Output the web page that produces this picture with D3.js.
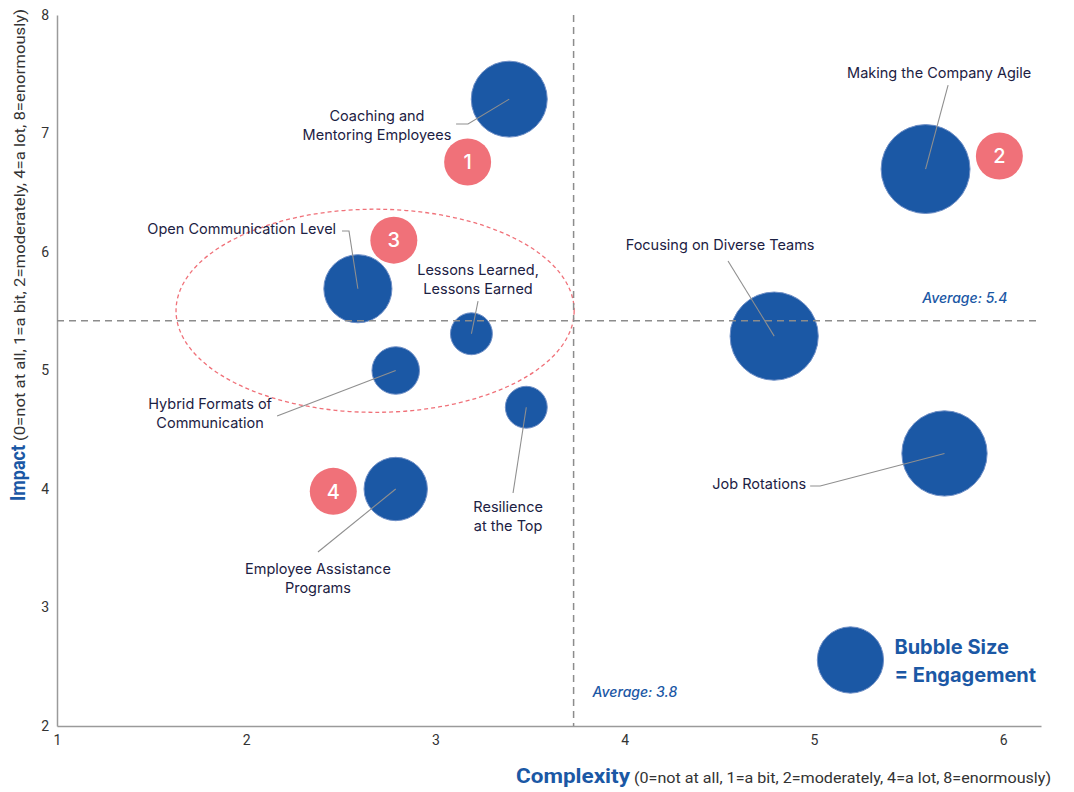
<!DOCTYPE html>
<html><head><meta charset="utf-8">
<script src="https://cdn.jsdelivr.net/npm/d3@7"></script>
<style>
html,body{margin:0;padding:0;background:#fff;}
svg{display:block;font-family:Inter,"Noto Sans",sans-serif;}
</style></head>
<body><svg id="chart" width="1074" height="792"></svg>
<script>
// ---- data ----
const topics = ["Coaching and Mentoring Employees","Making the Company Agile","Open Communication Level","Lessons Learned, Lessons Earned","Focusing on Diverse Teams","Hybrid Formats of Communication","Resilience at the Top","Job Rotations","Employee Assistance Programs"];
const complexity = [3.39, 5.59, 2.59, 3.19, 4.79, 2.79, 3.48, 5.69, 2.79];
const impact     = [7.29, 6.70, 5.69, 5.31, 5.29, 5.00, 4.69, 4.30, 4.00];
const engagement = [4.6, 6.3, 3.7, 1.4, 6.2, 1.8, 1.4, 5.8, 3.2];
// label lines, anchor and placement (data units) and leader start points (data units)
const labelLines = [["Coaching and","Mentoring Employees"],["Making the Company Agile"],["Open Communication Level"],["Lessons Learned,","Lessons Earned"],["Focusing on Diverse Teams"],["Hybrid Formats of","Communication"],["Resilience","at the Top"],["Job Rotations"],["Employee Assistance","Programs"]];
const labelAnchor = ["middle","middle","end","middle","middle","middle","middle","end","middle"];
const labelX = [2.691, 5.662, 2.475, 3.225, 4.504, 1.809, 3.384, 4.959, 2.379];
const labelY = [7.105, 7.468, 6.152, 5.806, 6.017, 4.675, 3.806, 4.000, 3.283];
const leaderX = [[3.109,3.172],[5.709],[2.506,2.543],[3.225],[4.546],[2.163],[3.410],[4.980,5.033],[2.379]];
const leaderY = [[7.080,7.080],[7.409],[6.177,6.177],[5.586],[5.924],[4.616],[3.966],[4.025,4.025],[3.468]];
const markerNums = ["1","2","3","4"];
const markerX = [3.17, 5.98, 2.78, 2.46];
const markerY = [6.76, 6.81, 6.10, 3.98];
const avgComplexity = 3.73, avgComplexityLabel = "Average: 3.8";
const avgImpact = 5.42, avgImpactLabel = "Average: 5.4";
const xTicks = [1,2,3,4,5,6];
const yTicks = [2,3,4,5,6,7,8];
const groupEllipse = {cx: 2.681, cy: 5.504, rx: 1.052, ry: 0.857};
const legendEngagement = 3.5;
const legendPos = [5.193, 2.557];
const legendLines = ["Bubble Size","= Engagement"];

// ---- chart ----
const svg = d3.select("#chart");
const BLUE = "#1b58a5", RED = "#f07179", INK = "#1c2143", GRAY = "#8c8c8c";
const x = d3.scaleLinear().domain([1, 6.2]).range([57, 1041]);
const y = d3.scaleLinear().domain([2, 8]).range([726, 15]);
const r = d3.scaleSqrt().domain([0, 10]).range([0, 56]);

// axes
const xAxis = svg.append("g").attr("transform", `translate(0,${y(2)})`)
  .call(d3.axisBottom(x).tickValues(xTicks).tickSize(0).tickPadding(9).tickFormat(d3.format("d")));
const yAxis = svg.append("g").attr("transform", `translate(${x(1)},0)`)
  .call(d3.axisLeft(y).tickValues(yTicks).tickSize(0).tickPadding(8).tickFormat(d3.format("d")));
[xAxis, yAxis].forEach(a => {
  a.select(".domain").attr("stroke", "#9a9a9a").attr("stroke-width", 1.5);
  a.selectAll("text").attr("fill", "#333").attr("font-size", 14).attr("font-family", "Roboto, sans-serif");
});

// group ellipse
svg.append("ellipse")
  .attr("cx", x(groupEllipse.cx)).attr("cy", y(groupEllipse.cy))
  .attr("rx", x(groupEllipse.cx + groupEllipse.rx) - x(groupEllipse.cx))
  .attr("ry", y(groupEllipse.cy - groupEllipse.ry) - y(groupEllipse.cy))
  .attr("fill", "none").attr("stroke", RED).attr("stroke-width", 1.3).attr("stroke-dasharray", "4,3");

// bubbles
const idx = d3.range(topics.length);
svg.append("g").selectAll("circle").data(idx).join("circle")
  .attr("cx", i => x(complexity[i])).attr("cy", i => y(impact[i])).attr("r", i => r(engagement[i]))
  .attr("fill", BLUE).attr("stroke", "#6f8fc6").attr("stroke-width", 1);

// leader lines
svg.append("g").selectAll("polyline").data(idx).join("polyline")
  .attr("points", i => leaderX[i].map((lx, k) => [x(lx), y(leaderY[i][k])]).concat([[x(complexity[i]), y(impact[i])]]).map(p => p.join(",")).join(" "))
  .attr("fill", "none").attr("stroke", "#8f8f8f").attr("stroke-width", 1.1);

// labels
const lab = svg.append("g").selectAll("text").data(idx).join("text")
  .attr("x", i => x(labelX[i])).attr("y", i => y(labelY[i]))
  .attr("text-anchor", i => labelAnchor[i]).attr("fill", INK).attr("font-size", 14.5);
lab.each(function(i) {
  const t = d3.select(this);
  labelLines[i].forEach((s, k) => t.append("tspan").attr("x", x(labelX[i])).attr("dy", k ? 19 : 0).text(s));
});

// average lines (on top)
svg.append("line").attr("x1", x(avgComplexity)).attr("x2", x(avgComplexity)).attr("y1", y(8)).attr("y2", y(2))
  .attr("stroke", GRAY).attr("stroke-width", 1.5).attr("stroke-dasharray", "7,5");
svg.append("line").attr("x1", x(1)).attr("x2", x(6.2)).attr("y1", y(avgImpact)).attr("y2", y(avgImpact))
  .attr("stroke", GRAY).attr("stroke-width", 1.5).attr("stroke-dasharray", "7,5");
svg.append("text").attr("x", x(avgComplexity) + 19).attr("y", y(2.245)).attr("fill", BLUE)
  .attr("font-size", 14).attr("font-style", "italic").attr("font-weight", 500).text(avgComplexityLabel);
svg.append("text").attr("x", x(5.572)).attr("y", y(avgImpact) - 18).attr("fill", BLUE)
  .attr("font-size", 14).attr("font-style", "italic").attr("font-weight", 500).text(avgImpactLabel);

// numbered markers
const mk = svg.append("g").selectAll("g").data(d3.range(markerNums.length)).join("g")
  .attr("transform", i => `translate(${x(markerX[i])},${y(markerY[i])})`);
mk.append("circle").attr("r", 23.5).attr("fill", RED);
mk.append("text").attr("text-anchor", "middle").attr("dy", "0.36em").attr("fill", "#fff")
  .attr("font-size", 20).attr("font-weight", 500).text(i => markerNums[i]);

// legend
svg.append("circle").attr("cx", x(legendPos[0])).attr("cy", y(legendPos[1])).attr("r", r(legendEngagement))
  .attr("fill", BLUE).attr("stroke", "#6f8fc6").attr("stroke-width", 1);
legendLines.forEach((s, k) => svg.append("text").attr("x", x(legendPos[0]) + 44).attr("y", y(legendPos[1]) - 6 + k * 28)
  .attr("fill", BLUE).attr("font-size", 20).attr("font-weight", 700).text(s));

// axis titles
svg.append("text").attr("x", 516).attr("y", 783).attr("fill", BLUE).attr("font-size", 21).attr("font-weight", 700)
  .attr("font-family", "Roboto, sans-serif").attr("textLength", 114).attr("lengthAdjust", "spacingAndGlyphs").text("Complexity");
svg.append("text").attr("x", 634).attr("y", 783).attr("fill", "#333").attr("font-size", 15)
  .attr("font-family", "Roboto, sans-serif").attr("textLength", 417).attr("lengthAdjust", "spacingAndGlyphs")
  .text("(0=not at all, 1=a bit, 2=moderately, 4=a lot, 8=enormously)");
const yt = svg.append("g").attr("transform", "translate(25,501) rotate(-90)");
yt.append("text").attr("x", 0).attr("y", 0).attr("fill", BLUE).attr("font-size", 21).attr("font-weight", 700)
  .attr("font-family", "Roboto, sans-serif").attr("textLength", 56).attr("lengthAdjust", "spacingAndGlyphs").text("Impact");
yt.append("text").attr("x", 60).attr("y", 0).attr("fill", "#333").attr("font-size", 15)
  .attr("font-family", "Roboto, sans-serif").attr("textLength", 432).attr("lengthAdjust", "spacingAndGlyphs")
  .text("(0=not at all, 1=a bit, 2=moderately, 4=a lot, 8=enormously)");
</script></body></html>
